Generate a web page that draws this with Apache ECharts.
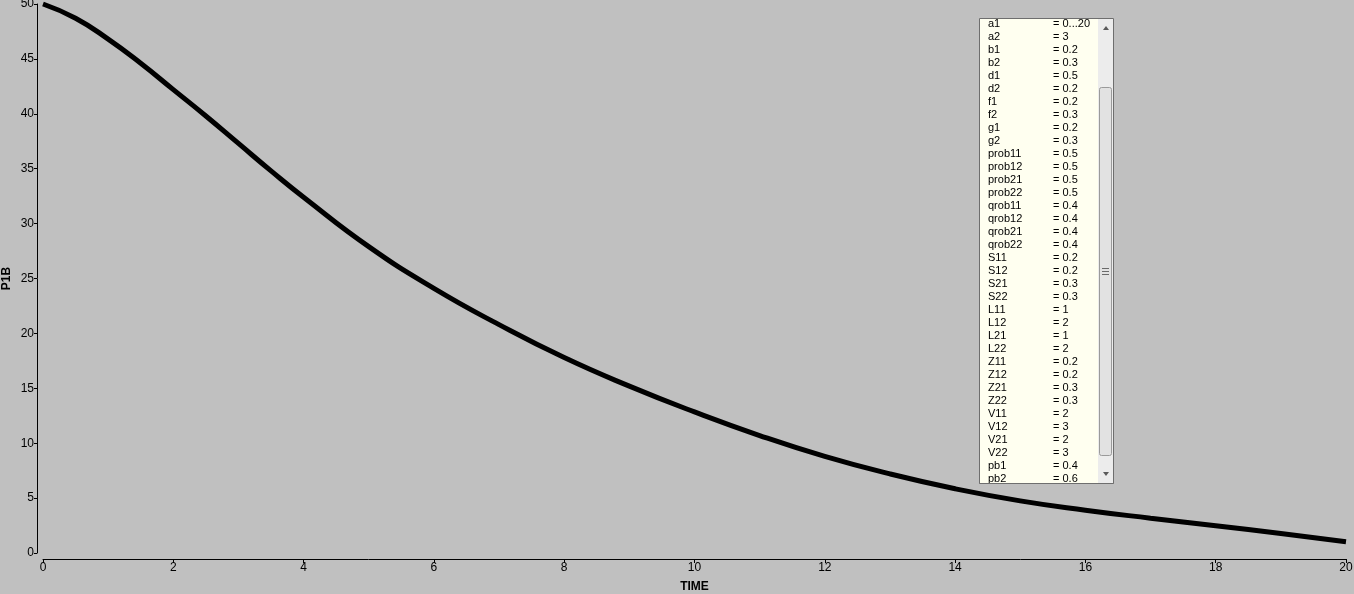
<!DOCTYPE html>
<html>
<head>
<meta charset="utf-8">
<script src="https://cdn.jsdelivr.net/npm/echarts@6/dist/echarts.min.js"></script>
<style>
html,body{margin:0;padding:0;background:#c0c0c0;}
#main{width:1354px;height:594px;}
</style>
</head>
<body>
<div id="main"></div>
<script>
// ---- data ----
var timeVals = [0, 0.5, 1, 1.5, 2, 2.5, 3, 3.5, 4, 5, 6, 7, 8, 9, 10, 11, 12, 13, 14, 15, 16, 17, 18, 19, 20];
var p1bVals = [50, 48.7, 46.8, 44.6, 42.2, 39.8, 37.3, 34.8, 32.4, 27.9, 24.1, 20.8, 17.8, 15.2, 12.85, 10.7, 8.8, 7.2, 5.85, 4.75, 3.9, 3.17, 2.48, 1.78, 1.03];
var paramNames = ['a1','a2','b1','b2','d1','d2','f1','f2','g1','g2','prob11','prob12','prob21','prob22','qrob11','qrob12','qrob21','qrob22','S11','S12','S21','S22','L11','L12','L21','L22','Z11','Z12','Z21','Z22','V11','V12','V21','V22','pb1','pb2'];
var paramValues = ['0...20','3','0.2','0.3','0.5','0.2','0.2','0.3','0.2','0.3','0.5','0.5','0.5','0.5','0.4','0.4','0.4','0.4','0.2','0.2','0.3','0.3','1','2','1','2','0.2','0.2','0.3','0.3','2','3','2','3','0.4','0.6'];
var xAxisName = 'TIME';
var yAxisName = 'P1B';

var seriesData = timeVals.map(function (t, i) { return [t, p1bVals[i]]; });

var font = '"Liberation Sans", Arial, sans-serif';
var graphics = [];
// param box
graphics.push({type:'rect', shape:{x:979.5, y:18.5, width:134, height:465}, style:{fill:'#fffff0', stroke:'#6e6e6e', lineWidth:1}, z:10});
paramNames.forEach(function (n, i) {
  var y = 24 + i * 13;
  graphics.push({type:'text', x:988, y:y, style:{text:n, fill:'#000', font:'11px ' + font, textVerticalAlign:'middle'}, z:11});
  graphics.push({type:'text', x:1053, y:y, style:{text:'= ' + paramValues[i], fill:'#000', font:'11px ' + font, textVerticalAlign:'middle'}, z:11});
});
// cover text overflow below box
graphics.push({type:'rect', shape:{x:979, y:484, width:136, height:3}, style:{fill:'#c0c0c0'}, z:12});
graphics.push({type:'line', shape:{x1:979.5, y1:483.5, x2:1113.5, y2:483.5}, style:{stroke:'#6e6e6e', lineWidth:1}, z:13});
// scrollbar
graphics.push({type:'rect', shape:{x:1098, y:19, width:15, height:464}, style:{fill:'#ececec'}, z:14});
graphics.push({type:'rect', shape:{x:1099.5, y:87.5, width:12, height:368, r:2}, style:{fill:'#e2e2e2', stroke:'#9a9a9a', lineWidth:1}, z:15});
graphics.push({type:'polygon', shape:{points:[[1103,30],[1109,30],[1106,26]]}, style:{fill:'#5a5a5a'}, z:15});
graphics.push({type:'polygon', shape:{points:[[1103,472],[1109,472],[1106,476]]}, style:{fill:'#5a5a5a'}, z:15});
[268, 271, 274].forEach(function (gy) {
  graphics.push({type:'line', shape:{x1:1102, y1:gy + 0.5, x2:1109, y2:gy + 0.5}, style:{stroke:'#6a6a6a', lineWidth:1}, z:16});
});

var chart = echarts.init(document.getElementById('main'), null, {renderer:'canvas'});
chart.setOption({
  backgroundColor: '#c0c0c0',
  animation: false,
  grid: {left:43, right:8, top:4, bottom:41, containLabel:false, outerBoundsMode:'none'},
  xAxis: {
    type:'value', min:0, max:20, interval:2, offset:6,
    name: xAxisName, nameLocation:'middle', nameGap:22, nameMoveOverlap:false,
    nameTextStyle:{color:'#000', fontWeight:'bold', fontSize:12, fontFamily:font},
    axisLine:{show:true, onZero:false, lineStyle:{color:'#000', width:1}},
    axisTick:{show:true, length:4, lineStyle:{color:'#000'}},
    axisLabel:{color:'#000', fontSize:12, fontFamily:font, margin:3},
    splitLine:{show:false}
  },
  yAxis: {
    type:'value', min:0, max:50, interval:5, offset:6,
    name: yAxisName, nameLocation:'middle', nameGap:24, nameRotate:90, nameMoveOverlap:false,
    nameTextStyle:{color:'#000', fontWeight:'bold', fontSize:12, fontFamily:font},
    axisLine:{show:true, onZero:false, lineStyle:{color:'#000', width:1}},
    axisTick:{show:true, length:3, lineStyle:{color:'#000'}},
    axisLabel:{color:'#000', fontSize:12, fontFamily:font, margin:3},
    splitLine:{show:false}
  },
  series: [{
    type:'line', data: seriesData, smooth:0.5, symbol:'none',
    lineStyle:{color:'#000', width:5}, clip:false
  }],
  graphic: graphics
});
</script>
</body>
</html>
